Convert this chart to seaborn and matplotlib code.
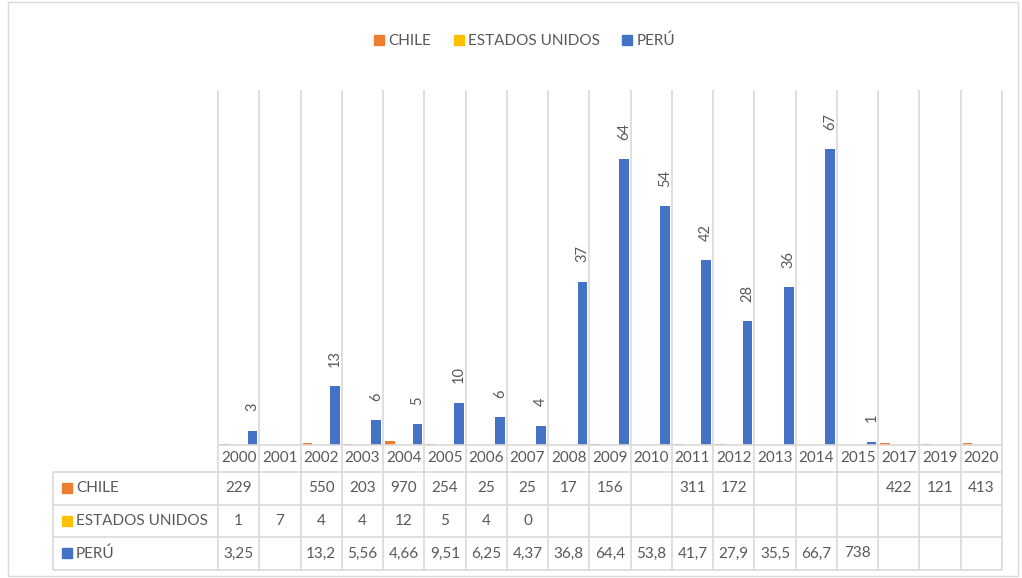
import numpy as np
import pandas as pd
import matplotlib
matplotlib.use("Agg")
import matplotlib.pyplot as plt
from matplotlib.lines import Line2D
from matplotlib.patches import Rectangle
import seaborn as sns

# --- data ---
years = ["2000", "2001", "2002", "2003", "2004", "2005", "2006", "2007", "2008", "2009",
         "2010", "2011", "2012", "2013", "2014", "2015", "2017", "2019", "2020"]
series = ["CHILE", "ESTADOS UNIDOS", "PERÚ"]
colors = ["#ED7D31", "#FFC000", "#4472C4"]

nan = np.nan
chile = [0.229, nan, 0.550, 0.203, 0.970, 0.254, 0.025, 0.025, 0.017, 0.156,
         nan, 0.311, 0.172, nan, nan, nan, 0.422, 0.121, 0.413]
eeuu = [0.001, 0.007, 0.004, 0.004, 0.012, 0.005, 0.004, 0.0, nan, nan,
        nan, nan, nan, nan, nan, nan, nan, nan, nan]
peru = [3.25, nan, 13.2, 5.56, 4.66, 9.51, 6.25, 4.37, 36.8, 64.4,
        53.8, 41.7, 27.9, 35.5, 66.7, 0.738, nan, nan, nan]

# data table text as shown in the chart
chile_tbl = ["229", "", "550", "203", "970", "254", "25", "25", "17", "156",
             "", "311", "172", "", "", "", "422", "121", "413"]
eeuu_tbl = ["1", "7", "4", "4", "12", "5", "4", "0", "", "",
            "", "", "", "", "", "", "", "", ""]
peru_tbl = ["3,25", "", "13,2", "5,56", "4,66", "9,51", "6,25", "4,37", "36,8", "64,4",
            "53,8", "41,7", "27,9", "35,5", "66,7", "738", "", "", ""]

TXT = "#595959"
GRID = "#d9d9d9"

df = pd.concat([
    pd.DataFrame({"year": years, "pais": series[0], "valor": chile}),
    pd.DataFrame({"year": years, "pais": series[1], "valor": eeuu}),
    pd.DataFrame({"year": years, "pais": series[2], "valor": peru}),
]).dropna()

sns.set_style("white")
plt.rcParams["font.family"] = ["Lato", "DejaVu Sans"]

fig = plt.figure(figsize=(10.22, 5.78), dpi=100)
ax = fig.add_axes([218 / 1022, 1 - 445 / 578, 784 / 1022, 355 / 578])

sns.barplot(data=df, x="year", y="valor", hue="pais", order=years, hue_order=series,
            palette=colors, width=1.0, gap=0.3, errorbar=None, legend=False, ax=ax,
            saturation=1, linewidth=0)

ax.set_xlim(-0.5, len(years) - 0.5)
ax.set_ylim(0, 80)
for s in ax.spines.values():
    s.set_visible(False)
ax.set_xticks([])
ax.set_yticks([])
ax.set_xlabel("")
ax.set_ylabel("")

# labels on PERÚ bars
ax.bar_label(ax.containers[2], fmt="%.0f", rotation=90, padding=14,
             color=TXT, fontsize=10.5)

tr = ax.get_xaxis_transform()
y_hdr, y_r1, y_r2, y_bot = -0.076, -0.169, -0.259, -0.352
left = -4.5

# grid / table lines
ax.vlines(np.arange(len(years) + 1) - 0.5, y_bot, 1, transform=tr, color=GRID,
          lw=1.2, clip_on=False, zorder=0)
ax.vlines([left], y_bot, y_hdr, transform=tr, color=GRID, lw=1.2, clip_on=False)
ax.hlines([y_hdr, y_r1, y_r2, y_bot], left, len(years) - 0.5, transform=tr,
          color=GRID, lw=1.2, clip_on=False)
ax.hlines([0], -0.5, len(years) - 0.5, transform=tr, color=GRID, lw=1.2, clip_on=False)

# table text
row_y = [(y_hdr + y_r1) / 2, (y_r1 + y_r2) / 2, (y_r2 + y_bot) / 2]
for i, yr in enumerate(years):
    ax.text(i, y_hdr / 2, yr, transform=tr, ha="center", va="center",
            color=TXT, fontsize=11)
for ry, tbl in zip(row_y, [chile_tbl, eeuu_tbl, peru_tbl]):
    for i, t in enumerate(tbl):
        ax.text(i, ry, t, transform=tr, ha="center", va="center",
                color=TXT, fontsize=11)
for ry, name, c in zip(row_y, series, colors):
    ax.plot([-4.16], [ry], marker="s", ms=7, color=c, transform=tr, clip_on=False)
    ax.text(-3.94, ry, name, transform=tr, ha="left", va="center",
            color=TXT, fontsize=11)

# legend
handles = [Line2D([], [], ls="", marker="s", ms=7, color=c) for c in colors]
fig.legend(handles, series, loc="center", bbox_to_anchor=(524 / 1022, 1 - 41 / 578),
           ncol=3, frameon=False, fontsize=11, labelcolor=TXT,
           handletextpad=0.2, columnspacing=1.4, handlelength=0.8)

# outer chart border
fig.add_artist(Rectangle((8 / 1022, 2 / 578), 1010 / 1022, 574 / 578,
                         transform=fig.transFigure, fill=False, ec=GRID, lw=1.0))

fig.savefig("out.png", dpi=100)
